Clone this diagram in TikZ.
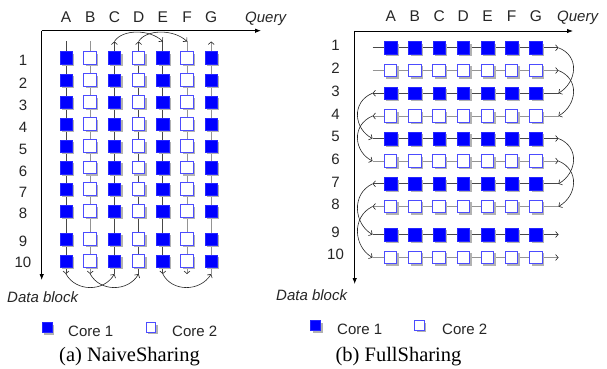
\documentclass[tikz,border=0pt]{standalone}
\usepackage{fontspec}
\setmainfont{Liberation Sans}
\newfontfamily\capfont{Liberation Serif}
\usetikzlibrary{arrows.meta,shadows}
\tikzset{
  sqbase/.style={minimum size=12.5pt, inner sep=0pt, outer sep=0pt,
    general shadow={fill=black!30, shadow xshift=2pt, shadow yshift=-2pt}},
  coreone/.style={sqbase, fill=blue, draw=blue!85!white, line width=0.5pt},
  coretwo/.style={sqbase, fill=white, draw=blue!70!white, line width=1pt},
  legone/.style={coreone, minimum size=10pt},
  legtwo/.style={coretwo, minimum size=9.5pt},
  dkline/.style={draw=black!72, line width=1pt},
  ltline/.style={draw=black!42, line width=1pt},
  arrtip/.style={-{Straight Barb[length=2.6pt,width=6pt,line width=0.6pt,color=black!85]}},
  flowcurve/.style={draw=black!85, line width=0.6pt, arrtip},
  myaxis/.style={draw=black, line width=0.8pt, -{Latex[length=6pt,width=4.5pt]}},
  lbltext/.style={font=\fontsize{15}{18}\selectfont, text=black!85, inner sep=0pt},
  coltext/.style={font=\fontsize{15.5}{18}\selectfont, text=black!85, inner sep=0pt},
  itltext/.style={font=\fontsize{15}{18}\selectfont\itshape, text=black!85, inner sep=0pt},
  captext/.style={font=\capfont\fontsize{20.5}{24}\selectfont, text=black, inner sep=0pt}
}
\begin{document}
\begin{tikzpicture}[x=1pt,y=-1pt]
\useasboundingbox (0,0) rectangle (607,369);
\fill[white] (0,0) rectangle (607,369);

% ================= LEFT PANEL: NaiveSharing =================
\coordinate (LO) at (41.7,30.7);
\coordinate (LX) at (261,30.7);
\coordinate (LY) at (41.7,280);
\draw[myaxis] (LO) -- (LX);
\draw[myaxis] (LO) -- (LY);

\foreach \c/\x in {A/66,B/90.2,C/114.4,D/138.6,E/162.8,F/187,G/211.2} {
  \coordinate (LT\c) at (\x,41.5);
  \coordinate (LB\c) at (\x,274);
  \node[coltext] (Lh\c) at (\x,17) {\c};
}
\node[itltext, anchor=base west] (LQ) at (245,22.7) {Query};

% column lines
\draw[dkline,arrtip] (LTA) -- (LBA);
\draw[ltline,arrtip] (LTB) -- (LBB);
\draw[dkline,arrtip] (LBC) -- (LTC);
\draw[dkline,arrtip] (LBD) -- (LTD);
\draw[dkline,arrtip] (LTE) -- (LBE);
\draw[ltline,arrtip] (LTF) -- (LBF);
\draw[ltline,arrtip] (LBG) -- (LTG);

% top curves
\draw[flowcurve] (LTC) .. controls (122,29) and (150,29) .. (LTE);
\draw[flowcurve] (LTD) .. controls (146,29) and (174,29) .. (LTF);
% bottom curves
\draw[flowcurve] (LBA) .. controls (76,292) and (104,292) .. (LBC);
\draw[flowcurve] (LBB) .. controls (100,292) and (128,292) .. (LBD);
\draw[flowcurve] (LBE) .. controls (172,292) and (200,292) .. (LBG);

% squares
\foreach \r/\y/\ly in {1/58/60,2/80/83,3/102/105,4/124/127,5/146/149,6/167.5/171,7/189/192,8/211/213,9/239/241,10/261/262.5} {
  \node[lbltext] (Lr\r) at (23,\ly) {\r};
  \foreach \c/\x/\s in {A/66/coreone,B/90.2/coretwo,C/114.4/coreone,D/138.6/coretwo,E/162.8/coreone,F/187/coretwo,G/211.2/coreone} {
    \node[\s] (L\c\r) at (\x,\y) {};
  }
}
\node[itltext, anchor=base west] (LD) at (7,302.5) {Data block};

% legend
\node[legone] (Lleg1) at (47,327.5) {};
\node[lbltext, anchor=base west] (Llt1) at (68,336) {Core 1};
\node[legtwo] (Lleg2) at (151,327.3) {};
\node[lbltext, anchor=base west] (Llt2) at (172,336) {Core 2};
\node[captext] (Lcap) at (129.5,357) {(a) NaiveSharing};

% ================= RIGHT PANEL: FullSharing =================
\coordinate (RO) at (354.7,31);
\coordinate (RX) at (573,31);
\coordinate (RY) at (354.7,284);
\draw[myaxis] (RO) -- (RX);
\draw[myaxis] (RO) -- (RY);

\foreach \c/\x in {A/390.7,B/414.9,C/439.1,D/463.3,E/487.5,F/511.7,G/535.9} {
  \node[coltext] (Rh\c) at (\x,15.8) {\c};
}
\node[itltext, anchor=base west] (RQ) at (557,21.7) {Query};

\foreach \r/\y in {1/47.8,2/70.5,3/93.2,4/116,5/138.5,6/161,7/183.8,8/206.5,9/234.5,10/257.5} {
  \coordinate (RL\r) at (372.5,\y);
  \coordinate (RR\r) at (558.5,\y);
}
% row lines
\draw[dkline,arrtip] (RL1) -- (RR1);
\draw[ltline,arrtip] (RL2) -- (RR2);
\draw[dkline,arrtip] (RR3) -- (RL3);
\draw[ltline,arrtip] (RR4) -- (RL4);
\draw[dkline,arrtip] (RL5) -- (RR5);
\draw[ltline,arrtip] (RL6) -- (RR6);
\draw[dkline,arrtip] (RR7) -- (RL7);
\draw[ltline,arrtip] (RR8) -- (RL8);
\draw[dkline,arrtip] (RL9) -- (RR9);
\draw[ltline,arrtip] (RL10) -- (RR10);

% right-side curves
\draw[flowcurve] (RR1) .. controls (580,56) and (577,82) .. (RR3);
\draw[flowcurve] (RR2) .. controls (580,79) and (577,105) .. (RR4);
\draw[flowcurve] (RR5) .. controls (580,147) and (577,173) .. (RR7);
\draw[flowcurve] (RR6) .. controls (580,170) and (577,196) .. (RR8);
% left-side curves
\draw[flowcurve] (RL3) .. controls (351,102) and (354,129) .. (RL5);
\draw[flowcurve] (RL4) .. controls (351,125) and (354,152) .. (RL6);
\draw[flowcurve] (RL7) .. controls (351,194) and (354,224) .. (RL9);
\draw[flowcurve] (RL8) .. controls (351,217) and (354,247) .. (RL10);

\foreach \r/\y/\ly/\s in {1/47.8/45.8/coreone,2/70.5/68/coretwo,3/93.2/91.3/coreone,4/116/114/coretwo,5/138.5/136.7/coreone,6/161/159/coretwo,7/183.8/182/coreone,8/206.5/204/coretwo,9/234.5/232/coreone,10/257.5/254/coretwo} {
  \node[lbltext] (Rr\r) at (335.5,\ly) {\r};
  \foreach \c/\x in {A/390.7,B/414.9,C/439.1,D/463.3,E/487.5,F/511.7,G/535.9} {
    \node[\s] (R\c\r) at (\x,\y) {};
  }
}
\node[itltext, anchor=base west] (RD) at (276,300.5) {Data block};

% legend
\node[legone] (Rleg1) at (315.5,325.5) {};
\node[lbltext, anchor=base west] (Rlt1) at (337,334.3) {Core 1};
\node[legtwo] (Rleg2) at (419.5,325.5) {};
\node[lbltext, anchor=base west] (Rlt2) at (442,334.3) {Core 2};
\node[captext] (Rcap) at (398.5,357) {(b) FullSharing};
\end{tikzpicture}
\end{document}
